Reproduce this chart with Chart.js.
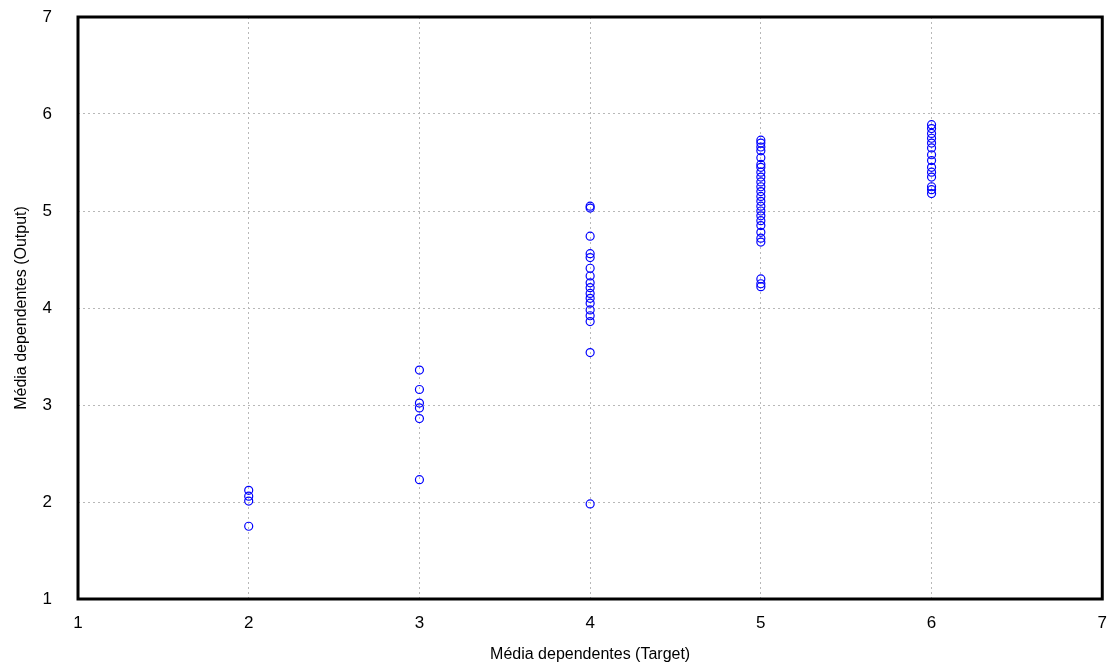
<!DOCTYPE html>
<html>
<head>
<meta charset="utf-8">
<script src="https://cdn.jsdelivr.net/npm/chart.js@4.4.1/dist/chart.umd.min.js"></script>
<style>
  html, body { margin: 0; padding: 0; background: #fff; }
  #wrap { width: 1108px; height: 664px; }
</style>
</head>
<body>
<div id="wrap"><canvas id="myChart" width="1108" height="664"></canvas></div>
<script>
// output values grouped by target value
const target2 = [2.12, 2.06, 2.01, 1.75];
const target3 = [3.36, 3.16, 3.02, 2.97, 2.86, 2.23];
const target4 = [5.05, 5.03, 4.74, 4.56, 4.52, 4.41, 4.33, 4.26, 4.21, 4.15, 4.10, 4.05, 3.98, 3.92, 3.86, 3.54, 1.98];
const target5 = [5.73, 5.70, 5.66, 5.62, 5.55, 5.48, 5.45, 5.40, 5.35, 5.30, 5.25, 5.20, 5.15, 5.10, 5.05, 5.00,
    4.95, 4.90, 4.85, 4.78, 4.72, 4.68, 4.30, 4.25, 4.22];
const target6 = [5.89, 5.85, 5.80, 5.75, 5.70, 5.65, 5.58, 5.52, 5.45, 5.40, 5.35, 5.25, 5.22, 5.18];
const targets = [2, 3, 4, 5, 6];
const groups = [target2, target3, target4, target5, target6];

const points = [];
groups.forEach((g, i) => g.forEach(v => points.push({ x: targets[i], y: v })));

const boxPlugin = {
    id: 'box',
    afterDraw(chart) {
        const { ctx, chartArea: a } = chart;
        ctx.save();
        ctx.strokeStyle = '#000';
        ctx.lineWidth = 3;
        ctx.strokeRect(a.left, a.top, a.right - a.left, a.bottom - a.top);
        ctx.restore();
    }
};

const font = { family: 'Liberation Sans, Arial, sans-serif', size: 17 };

const config = {
    type: 'scatter',
    data: {
        datasets: [{
            data: points,
            borderColor: 'rgb(0,0,255)',
            backgroundColor: 'rgba(0,0,0,0)',
            borderWidth: 1.2,
            pointRadius: 4,
        }],
    },
    options: {
        responsive: false,
        animation: false,
        layout: { padding: { top: 17, right: 0, left: 12, bottom: 0 } },
        plugins: { legend: { display: false }, tooltip: { enabled: false } },
        scales: {
            x: {
                min: 1, max: 7,
                ticks: { stepSize: 1, color: '#000', font: font, padding: 1 },
                grid: { color: '#b8b8b8', tickLength: 13, tickColor: 'rgba(0,0,0,0)' },
                border: { display: false, dash: [2, 3] },
                title: { display: true, text: 'Média dependentes (Target)', color: '#000', font: { family: font.family, size: 16 }, padding: { top: 4, bottom: 0 } },
                afterFit(scale) { scale.height = 65; },
            },
            y: {
                min: 1, max: 7,
                ticks: { stepSize: 1, color: '#000', font: font, padding: 4 },
                grid: { color: '#b8b8b8', tickLength: 22, tickColor: 'rgba(0,0,0,0)' },
                border: { display: false, dash: [2, 3] },
                title: { display: true, text: 'Média dependentes (Output)', color: '#000', font: { family: font.family, size: 16 }, padding: 0 },
                afterFit(scale) { scale.width = 66; },
            },
        },
    },
    plugins: [boxPlugin],
};

const ctx = document.getElementById('myChart').getContext('2d');
const myChart = new Chart(ctx, config);
</script>
</body>
</html>
